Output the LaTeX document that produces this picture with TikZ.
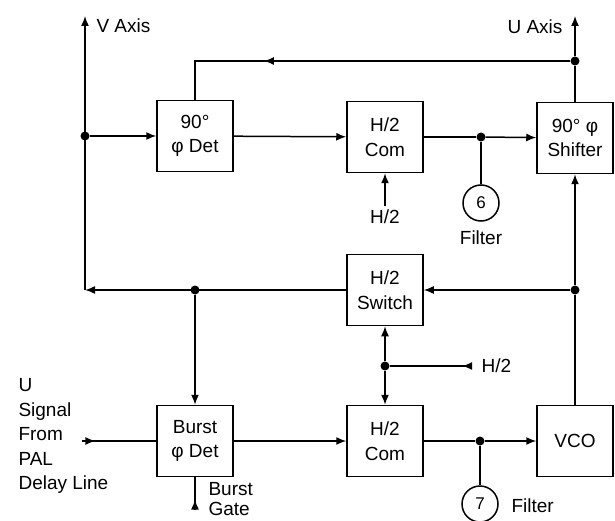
\documentclass[tikz,border=0pt]{standalone}
\usepackage{fontspec}
\setmainfont{Liberation Sans}
\usetikzlibrary{arrows.meta, decorations.markings}

\begin{document}
\begin{tikzpicture}[x=1pt, y=-1pt,
  every node/.style={font=\fontsize{19}{24.5}\selectfont},
  blk/.style={draw, line width=1.5pt, fill=white, minimum width=76pt,
              minimum height=71pt, align=center, inner sep=2pt},
  wire/.style={line width=1.5pt},
  arr/.style={wire, -{Latex[length=10pt, width=8pt]}},
  tipat/.style={wire, postaction={decorate},
                decoration={markings, mark=at position #1 with
                  {\arrow{Latex[length=10pt, width=8pt]}}}},
  jdot/.style={circle, fill, inner sep=0pt, minimum size=9pt},
  filt/.style={circle, draw, line width=1.5pt, minimum size=36pt,
               inner sep=0pt, font=\fontsize{17}{20}\selectfont}
]
  \useasboundingbox (0,0) rectangle (615,521);

  % blocks
  \node[blk] (det90)   at (195,136) {90°\\φ Det};
  \node[blk] (comtop)  at (385,137) {H/2\\Com};
  \node[blk] (shifter) at (575,138) {90° φ\\Shifter};
  \node[blk] (switch)  at (385,290) {H/2\\Switch};
  \node[blk] (burst)   at (195,441) {Burst\\φ Det};
  \node[blk] (combot)  at (385,441) {H/2\\Com};
  \node[blk] (vco)     at (575,441) {VCO};
  \node[filt] (f6) at (481,203) {6};
  \node[filt] (f7) at (480,504) {7};

  % junctions
  \node[jdot] (jv)   at (85,136)  {};
  \node[jdot] (ju)   at (575,61)  {};
  \node[jdot] (jf6)  at (481,137) {};
  \node[jdot] (jvco) at (575,290) {};
  \node[jdot] (jsw)  at (195,290) {};
  \node[jdot] (jh)   at (385,366) {};
  \node[jdot] (jf7)  at (480,441) {};
  \coordinate (vtop)   at (85,16);
  \coordinate (utop)   at (575,16);
  \coordinate (corner) at (85,290);
  \coordinate (hin)    at (472,366);
  \coordinate (uin)    at (82,441);
  \coordinate (gate)   at (195,510);

  % labels
  \node[anchor=west] (vlbl) at (93,26) {V Axis};
  \node[anchor=east] (ulbl) at (566,27) {U Axis};
  \node (h2a) at (385,217) {H/2};
  \node (f6lbl) at (481,238) {Filter};
  \node[anchor=west] (f7lbl) at (508,506) {Filter};
  \node[anchor=west] (hlbl) at (478,366) {H/2};
  \node[anchor=north west, align=left,
        font=\fontsize{19}{20}\selectfont] (gatelbl) at (205,479) {Burst\\Gate};
  \node[anchor=north west, align=left] (usig) at (15,375)
    {U\\Signal\\From\\PAL\\Delay Line};

  % connections
  \draw[arr] (jv) -- (det90);
  \draw[arr] (det90) -- (comtop);
  \draw[wire] (comtop) -- (jf6);
  \draw[arr] (jf6) -- (shifter);
  \draw[wire] (jf6) -- (f6);
  \draw[arr] (h2a) -- (comtop);
  \draw[wire] (vco) -- (jvco);
  \draw[arr] (jvco) -- (shifter);
  \draw[wire] (shifter) -- (ju);
  \draw[arr] (ju) -- (utop);
  \draw[tipat=0.74] (ju) -- (ju -| det90) -- (det90);
  \draw[arr] (jvco) -- (switch);
  \draw[arr] (switch) -- (corner);
  \draw[arr] (corner) -- (vtop);
  \draw[arr] (jsw) -- (burst);
  \draw[arr] (jh) -- (switch);
  \draw[arr] (jh) -- (combot);
  \draw[tipat=0.12] (hin) -- (jh);
  \draw[tipat=0.18] (uin) -- (burst);
  \draw[tipat=0.32] (gate) -- (burst);
  \draw[arr] (burst) -- (combot);
  \draw[wire] (combot) -- (jf7);
  \draw[arr] (jf7) -- (vco);
  \draw[wire] (jf7) -- (f7);
\end{tikzpicture}
\end{document}
